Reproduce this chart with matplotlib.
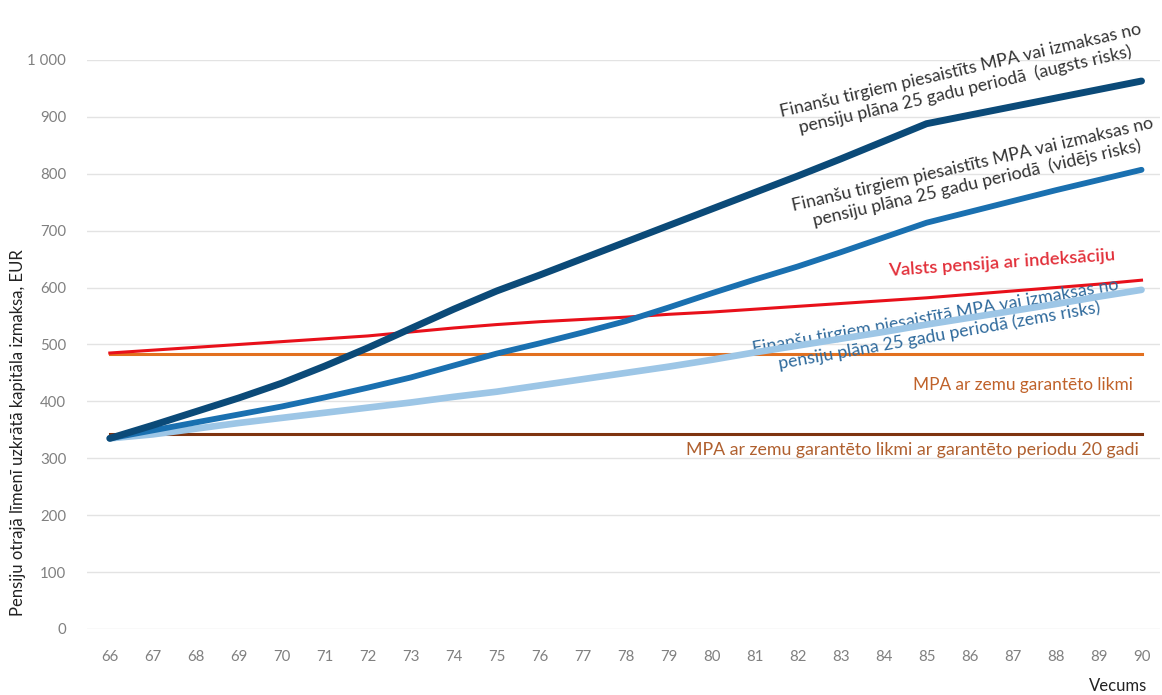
import numpy as np
import matplotlib
matplotlib.use('Agg')
import matplotlib.pyplot as plt
from matplotlib.ticker import FuncFormatter

plt.rcParams['font.family'] = ['Lato', 'DejaVu Sans']

# Vecums
vecums = list(range(66, 91))

# Finanšu tirgiem piesaistīts (augsts risks)
augsts = [335, 358, 382, 406, 432, 462, 494, 528, 562, 594, 622, 651, 680,
          709, 738, 767, 796, 826, 857, 888, 903, 918, 933, 948, 963]
# Finanšu tirgiem piesaistīts (vidējs risks)
videjs = [335, 349, 363, 377, 391, 407, 424, 442, 463, 484, 502, 521, 541,
          565, 590, 614, 637, 662, 688, 714, 733, 752, 771, 789, 807]
# Finanšu tirgiem piesaistītā (zems risks)
zems = [335, 342, 352, 362, 371, 380, 389, 398, 408, 417, 428, 439, 450,
        461, 473, 486, 498, 510, 522, 535, 547, 559, 571, 584, 596]
# Valsts pensija ar indeksāciju
valsts = [485, 490, 495, 500, 505, 510, 515, 522, 529, 535, 540, 544, 548,
          553, 557, 562, 567, 572, 577, 582, 588, 594, 600, 606, 613]
# MPA ar zemu garantēto likmi
mpa_garant = [483] * 25
# MPA ar garantēto periodu 20 gadi
mpa_20 = [342] * 25

fig = plt.figure(figsize=(11.62, 6.95), dpi=100)
ax = fig.add_axes([0.0749, 0.095, 0.923, 0.8187])

ax.plot(vecums, mpa_20, color='#7f3410', lw=2.2, zorder=2)
ax.plot(vecums, mpa_garant, color='#e2701f', lw=2.2, zorder=2)
ax.plot(vecums, valsts, color='#e8101a', lw=2.2, zorder=3)
ax.plot(vecums, zems, color='#9dc6e6', lw=4.8, solid_capstyle='round', zorder=4)
ax.plot(vecums, videjs, color='#1a70b0', lw=4.2, solid_capstyle='round', zorder=5)
ax.plot(vecums, augsts, color='#0b4a78', lw=5.0, solid_capstyle='round', zorder=6)

ax.set_xlim(65.47, 90.42)
ax.set_ylim(0, 1000)
ax.set_xticks(vecums)
ax.set_yticks(range(0, 1001, 100))
ax.yaxis.set_major_formatter(FuncFormatter(lambda v, p: f'{int(v):,}'.replace(',', ' ')))
ax.grid(axis='y', color='#e3e3e3', lw=1.0, zorder=0)
for s in ax.spines.values():
    s.set_visible(False)
ax.tick_params(axis='both', length=0, colors='#808080', labelsize=10.8)
ax.tick_params(axis='x', pad=15)
ax.tick_params(axis='y', pad=15)

ax.set_ylabel('Pensiju otrajā līmenī uzkrātā kapitāla izmaksa, EUR',
              fontsize=12, color='#222222')
ax.yaxis.set_label_coords(-0.057, 0.345)
fig.text(0.987, 0.002, 'Vecums', ha='right', va='bottom', fontsize=12, color='#222222')

# Anotācijas
ax.text(85.84, 964, 'Finanšu tirgiem piesaistīts MPA vai izmaksas no\npensiju plāna 25 gadu periodā  (augsts risks)',
        ha='center', va='center', rotation=13, fontsize=12.8, color='#333333',
        linespacing=1.25, rotation_mode='anchor')
ax.text(86.12, 800, 'Finanšu tirgiem piesaistīts MPA vai izmaksas no\npensiju plāna 25 gadu periodā  (vidējs risks)',
        ha='center', va='center', rotation=13, fontsize=12.8, color='#333333',
        linespacing=1.25, rotation_mode='anchor')
ax.text(86.75, 643, 'Valsts pensija ar indeksāciju',
        ha='center', va='center', rotation=4, fontsize=13.2, color='#e2303a',
        fontweight='semibold', rotation_mode='anchor')
ax.text(85.25, 532, 'Finanšu tirgiem piesaistītā MPA vai izmaksas no\npensiju plāna 25 gadu periodā (zems risks)',
        ha='center', va='center', rotation=10, fontsize=12.8, color='#2f6a9c',
        linespacing=1.25, rotation_mode='anchor')
ax.text(89.8, 429, 'MPA ar zemu garantēto likmi',
        ha='right', va='center', fontsize=12.4, color='#c0622a')
ax.text(89.95, 315, 'MPA ar zemu garantēto likmi ar garantēto periodu 20 gadi',
        ha='right', va='center', fontsize=12.8, color='#b0602f')

fig.savefig('out.png', dpi=100)
